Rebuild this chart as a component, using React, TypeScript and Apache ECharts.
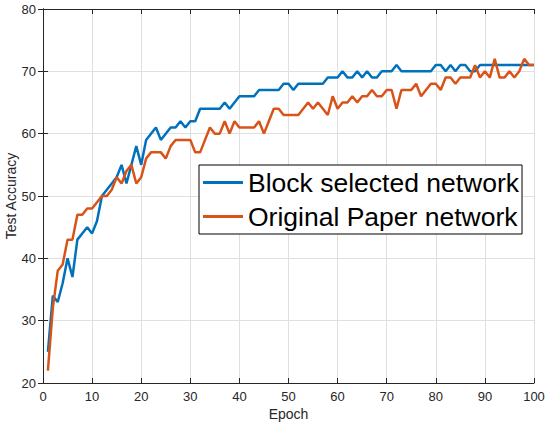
import React, { useEffect, useRef } from "react";
import * as echarts from "echarts";

const seriesNames = ["Block selected network", "Original Paper network"];

const epochs: number[] = Array.from({ length: 100 }, (_, i) => i + 1);

const blockSelected: number[] = [
  25, 34, 33, 36, 40, 37, 43, 44, 45, 44,
  46, 50, 51, 52, 53, 55, 52, 55, 58, 55,
  59, 60, 61, 59, 60, 61, 61, 62, 61, 62,
  62, 64, 64, 64, 64, 64, 65, 64, 65, 66,
  66, 66, 66, 67, 67, 67, 67, 67, 68, 68,
  67, 68, 68, 68, 68, 68, 68, 69, 69, 69,
  70, 69, 69, 70, 69, 70, 69, 69, 70, 70,
  70, 71, 70, 70, 70, 70, 70, 70, 70, 71,
  71, 70, 71, 70, 71, 71, 70, 70, 71, 71,
  71, 71, 71, 71, 71, 71, 71, 71, 71, 71,
];

const originalPaper: number[] = [
  22, 32, 38, 39, 43, 43, 47, 47, 48, 48,
  49, 50, 50, 51, 53, 52, 54, 55, 52, 53,
  56, 57, 57, 57, 56, 58, 59, 59, 59, 59,
  57, 57, 59, 61, 60, 60, 62, 60, 62, 61,
  61, 61, 61, 62, 60, 62, 64, 64, 63, 63,
  63, 63, 64, 65, 64, 65, 64, 63, 66, 64,
  65, 65, 66, 65, 66, 66, 67, 66, 66, 67,
  67, 64, 67, 67, 67, 68, 66, 67, 68, 68,
  67, 69, 69, 68, 69, 69, 69, 71, 69, 70,
  69, 72, 69, 69, 70, 69, 70, 72, 71, 71,
];

const xTicks = { min: 0, max: 100, interval: 10 };
const yTicks = { min: 20, max: 80, interval: 10 };

const FONT = "'Liberation Sans', Arial, Helvetica, sans-serif";
const AX = "#262626";

export default function App() {
  const ref = useRef<HTMLDivElement>(null);
  useEffect(() => {
    if (!ref.current) return;
    const chart = echarts.init(ref.current, undefined, { renderer: "svg" });
    const boxAxis = {
      axisLine: { show: true, lineStyle: { color: AX, width: 1 } },
      axisTick: { show: true, inside: true, length: 5, lineStyle: { color: AX } },
    };
    chart.setOption({
      animation: false,
      backgroundColor: "#ffffff",
      textStyle: { fontFamily: FONT },
      grid: { left: 43, right: 15, top: 9, bottom: 44, containLabel: false, outerBoundsMode: "none" },
      legend: {
        data: seriesNames,
        orient: "vertical",
        left: 199,
        top: 165,
        backgroundColor: "#ffffff",
        borderColor: "#000000",
        borderWidth: 1,
        padding: [4, 3, 4, 4],
        itemGap: 7,
        itemWidth: 40,
        itemHeight: 3,
        icon: "rect",
        textStyle: { fontSize: 26.5, color: "#000000", fontFamily: FONT },
      },
      xAxis: [
        {
          type: "value",
          ...xTicks,
          name: "Epoch",
          nameLocation: "middle",
          nameGap: 24,
          nameMoveOverlap: false,
          nameTextStyle: { fontSize: 14, color: AX, fontFamily: FONT },
          ...boxAxis,
          axisLabel: { fontSize: 13, color: AX, margin: 7, fontFamily: FONT },
          splitLine: { show: true, lineStyle: { color: "#dfdfdf", width: 1 } },
        },
        {
          type: "value",
          position: "top",
          ...xTicks,
          ...boxAxis,
          axisLabel: { show: false },
          splitLine: { show: false },
        },
      ],
      yAxis: [
        {
          type: "value",
          ...yTicks,
          name: "Test Accuracy",
          nameLocation: "middle",
          nameGap: 25,
          nameMoveOverlap: false,
          nameTextStyle: { fontSize: 14, color: AX, fontFamily: FONT },
          ...boxAxis,
          axisLabel: { fontSize: 13, color: AX, margin: 7, fontFamily: FONT },
          splitLine: { show: true, lineStyle: { color: "#dfdfdf", width: 1 } },
        },
        {
          type: "value",
          position: "right",
          ...yTicks,
          ...boxAxis,
          axisLabel: { show: false },
          splitLine: { show: false },
        },
      ],
      series: [
        {
          name: seriesNames[0],
          type: "line",
          xAxisIndex: 0,
          yAxisIndex: 0,
          showSymbol: false,
          symbol: "none",
          color: "#0072BD",
          lineStyle: { width: 2.5, color: "#0072BD" },
          data: epochs.map((e, i) => [e, blockSelected[i]]),
        },
        {
          name: seriesNames[1],
          type: "line",
          xAxisIndex: 0,
          yAxisIndex: 0,
          showSymbol: false,
          symbol: "none",
          color: "#D95319",
          lineStyle: { width: 2.5, color: "#D95319" },
          data: epochs.map((e, i) => [e, originalPaper[i]]),
        },
      ],
    });
    return () => chart.dispose();
  }, []);
  return (
    <div
      ref={ref}
      style={{ position: "fixed", left: 0, top: 0, width: 549, height: 427, background: "#fff" }}
    />
  );
}
